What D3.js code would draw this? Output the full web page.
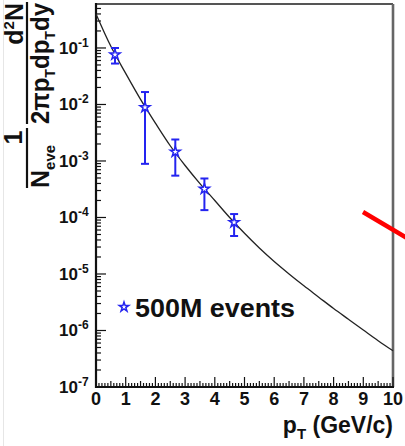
<!DOCTYPE html>
<html>
<head>
<meta charset="utf-8">
<script src="https://cdn.jsdelivr.net/npm/d3@7"></script>
<style>
  html, body { margin: 0; padding: 0; background: #fff; }
  svg { display: block; font-family: "Liberation Sans", Arial, Helvetica, sans-serif; font-weight: bold; }
</style>
</head>
<body>
<svg id="chart" width="405" height="446"></svg>
<script>
// Measured spectrum points (pT in GeV/c) with asymmetric error bars
const pointPt   = [0.64, 1.65, 2.67, 3.65, 4.65];
const pointVal  = [0.076, 0.0089, 0.00145, 0.00032, 0.000082];
const pointHigh = [0.100, 0.0166, 0.0024, 0.00049, 0.000115];
const pointLow  = [0.053, 0.00089, 0.00055, 0.000135, 0.000047];

// Fit curve sampled along pT
const fitPt  = [0, 0.5, 1, 1.5, 2, 2.5, 3, 3.5, 4, 4.5, 5, 5.5, 6, 6.5, 7, 7.5, 8, 8.5, 9, 9.5, 10];
const fitVal = [0.40, 0.107, 0.0355, 0.0123, 0.00468, 0.00186, 0.000832, 0.000398, 0.000200, 0.000100,
                0.0000525, 0.0000288, 0.0000166, 0.0000100, 0.00000617, 0.00000389, 0.00000245,
                0.00000158, 0.00000102, 0.00000066, 0.000000437];

const xTickValues = [0, 1, 2, 3, 4, 5, 6, 7, 8, 9, 10];
const yTickExponents = [-7, -6, -5, -4, -3, -2, -1];
const legendLabel = "500M events";

const W = 405, H = 446;
const svg = d3.select("#chart");
const blue = "#2424f0";

// faint page edge on the left
svg.append("line").attr("x1", 3.5).attr("x2", 3.5).attr("y1", 0).attr("y2", H)
  .attr("stroke", "#e6e6e6").attr("stroke-width", 1);

const x = d3.scaleLinear().domain([0, 10]).range([96, 393]);
const y = d3.scaleLog().domain([1e-7, 0.60]).range([387, 4]);

// ---- frame ----
svg.append("line").attr("x1", 96).attr("x2", 393).attr("y1", 4).attr("y2", 4)
  .attr("stroke", "#555").attr("stroke-width", 2.2);
svg.append("line").attr("x1", 393).attr("x2", 393).attr("y1", 4).attr("y2", 387)
  .attr("stroke", "#666").attr("stroke-width", 2.6);

// ---- x axis ticks (major / half / tenth) ----
const gx = svg.append("g");
const xMinor = d3.range(0, 100.5, 1).map(i => i / 10);
gx.selectAll("line.tk").data(xMinor).join("line")
  .attr("x1", d => x(d)).attr("x2", d => x(d))
  .attr("y1", 387)
  .attr("y2", (d, i) => 387 - (i % 10 === 0 ? 10 : i % 5 === 0 ? 6 : 4))
  .attr("stroke", "#111").attr("stroke-width", 1.2);
gx.append("line").attr("x1", 95).attr("x2", 394).attr("y1", 387).attr("y2", 387)
  .attr("stroke", "#111").attr("stroke-width", 2.2);
gx.selectAll("text").data(xTickValues).join("text")
  .attr("x", d => x(d)).attr("y", 405)
  .attr("text-anchor", "middle").attr("font-size", 18).attr("fill", "#111")
  .text(d => d);

// ---- y axis ticks (log decades with 2..9 minor) ----
const gy = svg.append("g");
const yMinor = [];
for (let e = -7; e <= 0; e++) {
  for (let k = 1; k <= 9; k++) {
    const v = k * Math.pow(10, e);
    if (v >= 1e-7 && v <= 0.60) yMinor.push({ v, major: k === 1 });
  }
}
gy.selectAll("line.tk").data(yMinor).join("line")
  .attr("x1", 96).attr("x2", d => 96 + (d.major ? 10 : 5))
  .attr("y1", d => y(d.v)).attr("y2", d => y(d.v))
  .attr("stroke", "#111").attr("stroke-width", 1.2);
gy.append("line").attr("x1", 96).attr("x2", 96).attr("y1", 3).attr("y2", 388)
  .attr("stroke", "#111").attr("stroke-width", 2.2);
const yl = gy.selectAll("text").data(yTickExponents).join("text")
  .attr("x", 59).attr("y", d => y(Math.pow(10, d)) + 6)
  .attr("font-size", 17).attr("fill", "#111");
yl.append("tspan").text("10");
yl.append("tspan").attr("font-size", 12).attr("dy", -7).text(d => String(d));

// ---- fit curve ----
const fitData = fitPt.map((p, i) => [p, fitVal[i]]);
svg.append("path").datum(fitData)
  .attr("d", d3.line().x(d => x(d[0])).y(d => y(d[1])).curve(d3.curveMonotoneX))
  .attr("fill", "none").attr("stroke", "#222").attr("stroke-width", 1.3);

// ---- data points ----
const pts = pointPt.map((p, i) => ({ p, v: pointVal[i], hi: pointHigh[i], lo: pointLow[i] }));
const gp = svg.append("g");
gp.selectAll("line.err").data(pts).join("line")
  .attr("x1", d => x(d.p)).attr("x2", d => x(d.p))
  .attr("y1", d => y(d.hi)).attr("y2", d => y(d.lo))
  .attr("stroke", blue).attr("stroke-width", 2);
gp.selectAll("line.capT").data(pts).join("line")
  .attr("x1", d => x(d.p) - 4).attr("x2", d => x(d.p) + 4)
  .attr("y1", d => y(d.hi)).attr("y2", d => y(d.hi))
  .attr("stroke", blue).attr("stroke-width", 2);
gp.selectAll("line.capB").data(pts).join("line")
  .attr("x1", d => x(d.p) - 4).attr("x2", d => x(d.p) + 4)
  .attr("y1", d => y(d.lo)).attr("y2", d => y(d.lo))
  .attr("stroke", blue).attr("stroke-width", 2);
const star = d3.symbol().type(d3.symbolStar).size(32);
gp.selectAll("path.pt").data(pts).join("path")
  .attr("d", star)
  .attr("transform", d => `translate(${x(d.p)},${y(d.v)})`)
  .attr("fill", "#fff").attr("stroke", blue).attr("stroke-width", 1.5);

// ---- legend ----
svg.append("path").attr("d", d3.symbol().type(d3.symbolStar).size(28))
  .attr("transform", "translate(124,307)")
  .attr("fill", "none").attr("stroke", blue).attr("stroke-width", 1.5);
svg.append("text").attr("x", 135).attr("y", 317)
  .attr("font-size", 26).attr("fill", "#111")
  .attr("textLength", 160).attr("lengthAdjust", "spacingAndGlyphs")
  .text(legendLabel);

// ---- x title ----
const xt = svg.append("text").attr("x", 393).attr("y", 433)
  .attr("text-anchor", "end").attr("font-size", 23).attr("fill", "#111");
xt.append("tspan").text("p");
xt.append("tspan").attr("font-size", 15).attr("dy", 6).text("T");
xt.append("tspan").attr("dy", -6).text(" (GeV/c)");

// ---- y title: 1/N_eve  d²N / (2π pT dpT dy), rotated ----
const gt = svg.append("g").attr("transform", `translate(0,${H}) rotate(-90)`);
// local u = H - screenY, v = screenX
const num = gt.append("text").attr("x", H - 3).attr("y", 23)
  .attr("text-anchor", "end").attr("font-size", 25).attr("fill", "#111");
num.append("tspan").text("d");
num.append("tspan").attr("font-size", 15).attr("dy", -9).text("2");
num.append("tspan").attr("dy", 9).text("N");
gt.append("line").attr("x1", H - 2).attr("x2", H - 124).attr("y1", 27).attr("y2", 27)
  .attr("stroke", "#111").attr("stroke-width", 2.2);
const den = gt.append("text").attr("x", H - 3).attr("y", 49)
  .attr("text-anchor", "end").attr("font-size", 25).attr("fill", "#111")
  .attr("textLength", 121).attr("lengthAdjust", "spacingAndGlyphs");
den.append("tspan").text("2πp");
den.append("tspan").attr("font-size", 15).attr("dy", 6).text("T");
den.append("tspan").attr("dy", -6).text("dp");
den.append("tspan").attr("font-size", 15).attr("dy", 6).text("T");
den.append("tspan").attr("dy", -6).text("dy");

gt.append("text").attr("x", H - 137.5).attr("y", 22)
  .attr("text-anchor", "middle").attr("font-size", 25).attr("fill", "#111").text("1");
gt.append("line").attr("x1", H - 128).attr("x2", H - 188).attr("y1", 27).attr("y2", 27)
  .attr("stroke", "#111").attr("stroke-width", 2.2);
const nev = gt.append("text").attr("x", H - 188).attr("y", 49)
  .attr("font-size", 25).attr("fill", "#111");
nev.append("tspan").text("N");
nev.append("tspan").attr("font-size", 15).attr("dy", 6).text("eve");

// ---- red pointer stroke at the right edge ----
svg.append("line").attr("x1", 363).attr("y1", 212).attr("x2", 412).attr("y2", 241)
  .attr("stroke", "#ff0000").attr("stroke-width", 4.5);
</script>
</body>
</html>
